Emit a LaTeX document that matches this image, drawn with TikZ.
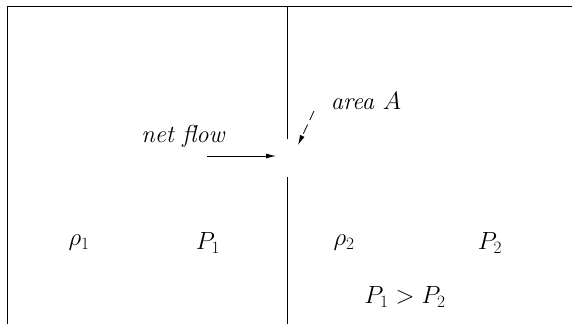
\documentclass[tikz,border=0pt]{standalone}
\usepackage{amsmath}
\usepackage{tikz}
\usetikzlibrary{arrows.meta, calc}

\tikzset{
  wall/.style={line width=0.8pt, black},
  lbl/.style={font=\fontsize{24.5}{29}\selectfont\itshape},
  qty/.style={font=\fontsize{24.5}{29}\selectfont},
  flowarrow/.style={line width=0.8pt, -{Latex[length=10pt, width=5pt]}}
}

\begin{document}
\begin{tikzpicture}[x=1pt, y=-1pt]
      \useasboundingbox (0,0) rectangle (572,324);
      % ── container walls ──────────────────────────────────────────────────────
      \draw[wall] (7,324) -- (7,6) -- (572,6);
      % ── partition with the small opening ─────────────────────────────────────
      \draw[wall] (287,6) -- (287,139);
      \draw[wall] (287,177) -- (287,324);

      % ── labels ───────────────────────────────────────────────────────────────
      \node[lbl] (netflow) at (183,136) {net flow};
      \node[lbl] (area) at (366,101) {area $A$};
      \node[qty] (rho1) at (79,243) {$\rho_1$};
      \node[qty] (P1) at (208,243) {$P_1$};
      \node[qty] (rho2) at (344,243) {$\rho_2$};
      \node[qty] (P2) at (490,243) {$P_2$};
      \node[qty] (ineq) at (405,297) {$P_1 > P_2$};

      % ── arrows ───────────────────────────────────────────────────────────────
      \coordinate (flowtail) at (207,156);
      \coordinate (hole) at (276,156);
      \draw[flowarrow] (flowtail) -- (hole);
      \coordinate (areatail) at (314,111);
      \coordinate (areatip) at (298,145);
      \draw[flowarrow, dash pattern=on 10pt off 5pt] (areatail) -- (areatip);
    \end{tikzpicture}
\end{document}
